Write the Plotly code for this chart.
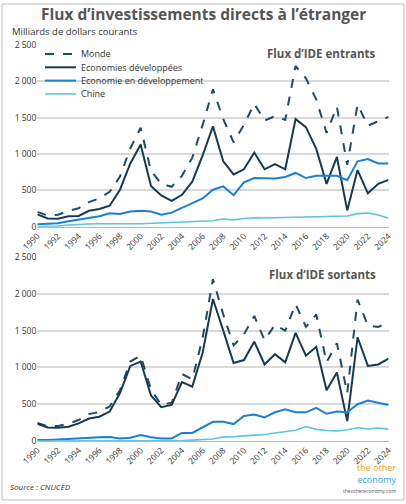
import plotly.graph_objects as go
from plotly.subplots import make_subplots

years = list(range(1990, 2025))

# Flux entrants (milliards USD)
in_monde = [205, 155, 165, 220, 255, 340, 390, 480, 690, 1080, 1360, 770, 590, 550, 700, 950, 1400, 1890, 1480, 1160,
            1400, 1690, 1460, 1520, 1470, 2210, 2040, 1750, 1290, 1650, 850, 1680, 1390, 1450, 1510]
in_dev = [170, 115, 110, 145, 150, 220, 245, 290, 510, 870, 1130, 560, 430, 355, 440, 620, 980, 1380, 900, 720,
          790, 1020, 790, 860, 790, 1480, 1370, 1070, 590, 960, 225, 780, 460, 590, 645]
in_devg = [35, 40, 50, 75, 100, 115, 145, 185, 175, 210, 220, 210, 165, 195, 260, 320, 390, 510, 555, 435,
           610, 670, 670, 665, 685, 740, 670, 700, 700, 700, 640, 900, 930, 870, 870]
in_chine = [5, 5, 10, 25, 35, 38, 42, 45, 46, 41, 41, 47, 53, 54, 61, 72, 73, 84, 108, 95,
            115, 124, 121, 124, 128, 136, 134, 136, 138, 141, 149, 181, 189, 163, 116]

# Flux sortants
out_monde = [245, 200, 205, 235, 285, 365, 395, 470, 690, 1080, 1160, 700, 490, 520, 910, 840, 1400, 2200, 1720, 1300,
             1450, 1700, 1370, 1580, 1500, 1860, 1550, 1720, 1070, 1330, 650, 1920, 1570, 1550, 1610]
out_dev = [235, 185, 180, 195, 240, 305, 330, 400, 650, 1020, 1080, 620, 460, 490, 800, 740, 1200, 1930, 1500, 1060,
           1100, 1350, 1040, 1180, 1070, 1470, 1160, 1280, 690, 930, 270, 1410, 1020, 1040, 1120]
out_devg = [15, 12, 20, 30, 40, 45, 50, 55, 35, 45, 80, 50, 35, 35, 110, 110, 190, 260, 260, 230,
            340, 360, 320, 390, 430, 390, 390, 450, 370, 400, 390, 500, 550, 515, 490]
out_chine = [1, 1, 4, 4, 2, 2, 2, 2, 3, 2, 1, 7, 3, 3, 6, 12, 21, 27, 56, 57,
             69, 75, 88, 108, 123, 146, 196, 158, 143, 137, 154, 179, 163, 177, 162]

names = ["Monde", "Economies développées", "Economie en développement", "Chine"]
styles = [dict(color="#1f4b68", dash="dash", width=2),
          dict(color="#163a52", width=2),
          dict(color="#1b7fd6", width=2),
          dict(color="#5cc3e0", width=1.6)]

fig = make_subplots(rows=2, cols=1)
for i, ys in enumerate([in_monde, in_dev, in_devg, in_chine]):
    fig.add_trace(go.Scatter(x=years, y=ys, mode="lines", name=names[i], line=styles[i], showlegend=False),
                  row=1, col=1)
for i, ys in enumerate([out_monde, out_dev, out_devg, out_chine]):
    fig.add_trace(go.Scatter(x=years, y=ys, mode="lines", name=names[i], line=styles[i], showlegend=False),
                  row=2, col=1)

tickvals = list(range(1990, 2025, 2))
xax = dict(range=[1990, 2024], tickvals=tickvals, tickangle=-45, automargin=False,
           tickfont=dict(size=8.5, color="#333"), showgrid=False, showline=True, linecolor="#bbb",
           ticks="", domain=[0.092, 0.957])
yax = dict(range=[0, 2500], tickvals=[0, 500, 1000, 1500, 2000, 2500],
           ticktext=["0", "500", "1 000", "1 500", "2 000", "2 500"], automargin=False,
           tickfont=dict(size=8.5, color="#333"), gridcolor="#d9d9d9", gridwidth=1.5, zeroline=False)
fig.update_layout(xaxis=xax, xaxis2=xax, yaxis=dict(yax, domain=[0.550, 0.911]),
                  yaxis2=dict(yax, domain=[0.125, 0.490]))

# compact legend drawn by hand (plotly's own legend rows are too tall)
shapes = [dict(type="rect", xref="paper", yref="paper", x0=0.005, x1=0.995, y0=0.008, y1=0.992,
               line=dict(color="#bbb", width=1))]
annotations = []
for i, name in enumerate(names):
    ypx = 54 + i * 13.3
    yp = 1 - ypx / 504
    shapes.append(dict(type="line", xref="paper", yref="paper", x0=45 / 406, x1=76 / 406, y0=yp, y1=yp,
                       line=styles[i]))
    annotations.append(dict(text=name, x=79 / 406, y=yp, xref="paper", yref="paper", xanchor="left",
                            yanchor="middle", showarrow=False, font=dict(size=9, color="#333")))

fig.update_layout(
    width=406, height=504, margin=dict(l=0, r=0, t=0, b=0),
    paper_bgcolor="white", plot_bgcolor="white",
    font=dict(family="Open Sans", color="#333"),
    showlegend=False,
    shapes=shapes,
    annotations=annotations + [
        dict(text="<b>Flux d’investissements directs à l’étranger</b>", x=0.5, y=0.972, xref="paper",
             yref="paper", xanchor="center", yanchor="middle", showarrow=False,
             font=dict(size=15.5, color="#555")),
        dict(text="Milliards de dollars courants", x=0.025, y=0.938, xref="paper", yref="paper",
             xanchor="left", yanchor="middle", showarrow=False, font=dict(size=9.5, color="#333")),
        dict(text="<b>Flux d’IDE entrants</b>", x=0.93, y=0.893, xref="paper", yref="paper",
             xanchor="right", yanchor="middle", showarrow=False, font=dict(size=11.5, color="#555")),
        dict(text="<b>Flux d’IDE sortants</b>", x=0.93, y=0.455, xref="paper", yref="paper",
             xanchor="right", yanchor="middle", showarrow=False, font=dict(size=11.5, color="#555")),
        dict(text="<i>Source : CNUCED</i>", x=0.02, y=0.035, xref="paper", yref="paper",
             xanchor="left", yanchor="middle", showarrow=False, font=dict(size=8, color="#333")),
        dict(text="<span style='color:#f39a2b'>the other</span><br><span style='color:#2aa7e0'>economy</span>",
             x=0.98, y=0.06, xref="paper", yref="paper", xanchor="right", yanchor="middle",
             showarrow=False, align="right", font=dict(size=9)),
        dict(text="theothereconomy.com", x=0.98, y=0.025, xref="paper", yref="paper", xanchor="right",
             yanchor="middle", showarrow=False, font=dict(size=5, color="#555")),
    ],
)

fig.write_html("out.html", config={"displayModeBar": False},
               post_script="document.body.style.margin='0';document.body.style.overflow='hidden';")
